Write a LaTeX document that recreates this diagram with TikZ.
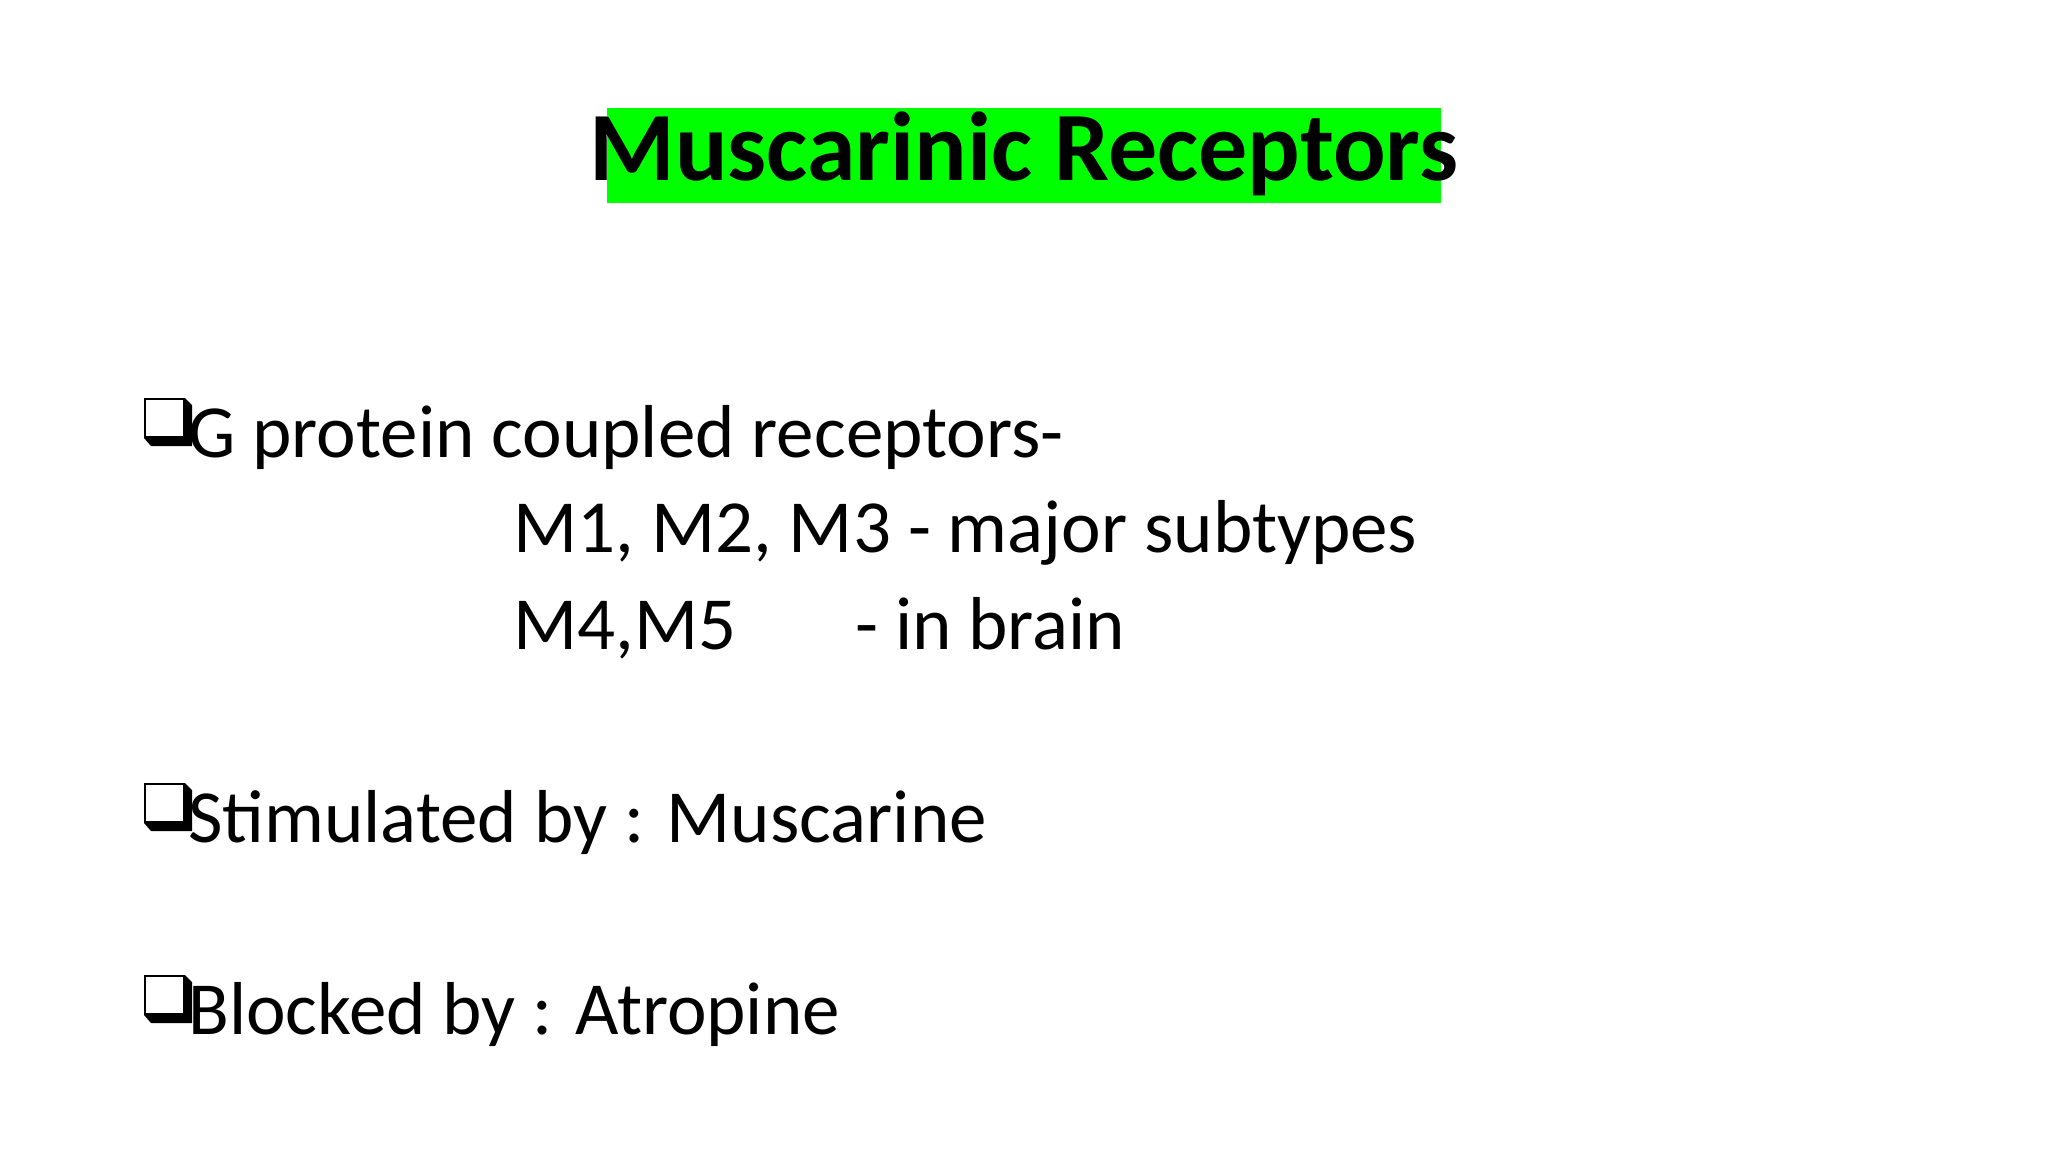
\documentclass[tikz,border=0pt]{standalone}
\usepackage{fontspec}
\setmainfont{Carlito}
\definecolor{hl}{RGB}{0,255,0}
\tikzset{body/.style={anchor=base west,inner sep=0pt,font=\fontsize{75}{90}\selectfont},
bul/.style={line width=2.5pt}}
\newcommand{\mybullet}[2]{%
 \fill[black] (#1+41,-#2) -- (#1+48,-#2-7) -- (#1+48,-#2-48) -- (#1+7,-#2-48) -- (#1,-#2-40) -- (#1+41,-#2-40) -- cycle;
 \draw[bul,fill=white] (#1+1,-#2-1) rectangle (#1+40,-#2-39);}
\begin{document}
\begin{tikzpicture}[x=1pt,y=1pt]
\useasboundingbox (0,0) rectangle (2048,-1152);
\fill[hl] (607,-108) rectangle (1441,-203);
\node (title) [anchor=base,inner sep=0pt,font=\bfseries\fontsize{98}{110}\selectfont] at (1024,-180) {Muscarinic Receptors};
\mybullet{144}{398}
\node (b1) [body] at (188,-457) {G protein coupled receptors-};
\node (l2) [body] at (513,-552) {M1, M2, M3 - major subtypes};
\node (l3) [body] at (513,-649) {M4,M5};
\node (l3b) [body] at (855,-649) {- in brain};
\mybullet{144}{783}
\node (b2) [body] at (188,-842) {Stimulated by : Muscarine};
\mybullet{144}{975}
\node (b3) [body] at (188,-1034) {Blocked by : Atropine};
\end{tikzpicture}
\end{document}
